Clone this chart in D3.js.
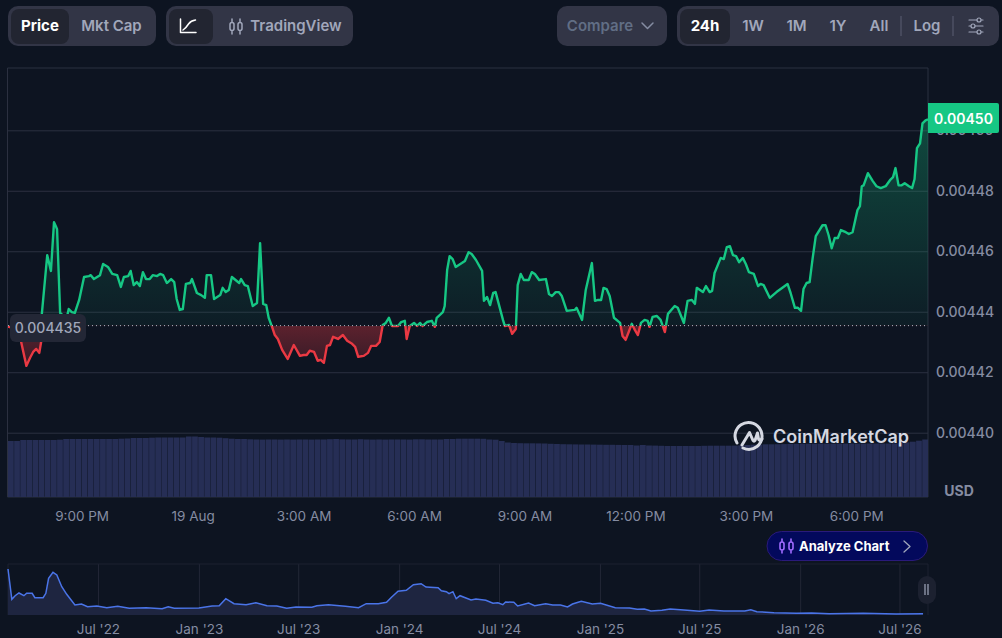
<!DOCTYPE html>
<html>
<head>
<meta charset="utf-8">
<script src="https://cdn.jsdelivr.net/npm/d3@7/dist/d3.min.js"></script>
<style>
html,body{margin:0;padding:0;background:#0d1421;overflow:hidden}
svg{display:block}
text{font-family:Inter,"Noto Sans",sans-serif}
</style>
</head>
<body>
<svg id="c" width="1002" height="638"></svg>
<script>
// minutes since 7:00 PM on 18 Aug
const minutes=[0,3,13,21,30,36,41,46,51,54,55,64,70,75,78,80,85,90,95,99,104,109,116,124,132,135,140,150,155,163,170,178,184,189,196,200,205,210,215,220,225,231,236,243,248,253,259,266,271,275,280,285,290,297,300,308,315,321,324,331,336,346,350,355,360,365,377,380,386,391,399,406,411,416,421,425,430,435,440,447,456,466,476,482,487,492,499,505,510,515,520,525,530,538,546,553,561,566,571,580,587,592,600,606,611,616,621,626,636,641,647,650,655,662,667,672,676,683,691,696,699,709,712,716,720,725,730,740,745,751,756,763,773,776,781,786,791,795,807,810,817,822,828,831,836,841,849,854,859,866,877,882,887,893,898,903,911,924,927,936,942,952,957,962,967,971,976,981,988,998,1002,1007,1012,1017,1022,1027,1032,1038,1043,1046,1051,1058,1064,1071,1076,1087,1092,1102,1108,1115,1120,1123,1133,1138,1144,1148,1152,1162,1167,1172,1177,1182,1187,1192,1198,1203,1208,1216,1223,1227,1232,1242,1253,1271,1276,1283,1288,1293,1297,1302,1307,1312,1317,1328,1333,1338,1343,1348,1353,1358,1366,1371,1377,1385,1389,1392,1395,1402,1410,1416,1423,1431,1438,1443,1447,1452,1457,1462,1469,1474,1478,1482,1487,1491,1496,1500];
// price in millionths of a dollar
const prices=[4435.0,4435.0,4433.0,4430.4,4422.1,4424.8,4426.7,4427.7,4426.4,4430.0,4438.9,4458.7,4453.5,4469.6,4468.3,4467.3,4439.6,4438.6,4437.3,4440.9,4439.9,4439.6,4443.9,4451.5,4451.8,4452.1,4450.8,4452.1,4455.8,4454.8,4452.5,4452.1,4448.2,4451.5,4451.8,4453.5,4448.8,4449.8,4448.5,4453.1,4450.8,4450.8,4452.1,4451.8,4452.5,4452.1,4449.5,4450.8,4449.8,4444.2,4440.6,4440.9,4449.2,4449.5,4450.8,4446.2,4445.5,4444.6,4452.1,4452.1,4444.2,4445.5,4447.9,4446.5,4447.2,4451.5,4449.5,4450.8,4448.8,4448.5,4441.9,4442.9,4462.7,4442.6,4442.2,4438.0,4435.3,4432.3,4431.0,4427.4,4424.4,4429.0,4425.4,4425.7,4425.7,4427.1,4426.7,4423.8,4424.1,4423.1,4428.7,4429.0,4431.7,4431.0,4432.3,4430.4,4429.4,4428.4,4425.1,4425.4,4426.4,4428.7,4428.7,4430.0,4435.6,4436.3,4438.0,4435.3,4435.3,4436.6,4437.0,4431.0,4435.3,4436.3,4435.3,4436.3,4435.3,4436.6,4437.0,4435.0,4438.0,4439.9,4441.9,4453.8,4458.4,4457.4,4454.8,4456.1,4456.8,4459.7,4459.1,4457.1,4453.5,4443.6,4444.9,4442.2,4446.2,4446.5,4437.3,4435.3,4435.6,4432.7,4434.3,4448.8,4452.5,4450.5,4450.5,4453.1,4452.5,4450.5,4450.8,4445.9,4445.2,4446.5,4446.5,4445.2,4440.3,4440.6,4441.3,4437.3,4447.2,4456.1,4443.6,4443.9,4443.9,4447.9,4447.5,4445.2,4438.0,4436.3,4432.0,4430.7,4433.3,4436.0,4434.0,4432.3,4436.3,4437.3,4437.0,4435.0,4438.3,4438.6,4437.3,4433.3,4439.3,4441.9,4441.3,4436.3,4443.6,4443.9,4442.6,4447.9,4446.5,4448.5,4446.5,4446.9,4452.8,4457.8,4457.4,4461.4,4461.7,4458.7,4458.4,4456.4,4457.8,4455.8,4453.1,4452.5,4448.5,4449.2,4448.8,4444.6,4446.5,4449.2,4446.2,4441.3,4441.3,4440.3,4447.5,4449.5,4449.8,4457.8,4465.0,4468.6,4468.6,4465.3,4461.0,4464.4,4464.4,4467.0,4466.3,4465.7,4466.3,4473.6,4474.9,4481.5,4481.8,4485.8,4483.2,4481.5,4480.9,4481.5,4483.5,4484.5,4487.5,4481.8,4481.8,4482.5,4481.5,4480.9,4483.8,4494.1,4495.7,4502.3,4503.3,4503.6];
const basePrice=4435.4;
const basePriceLabel="0.004435";
const lastPriceLabel="0.00450";
const priceTicks=[4400,4420,4440,4460,4480,4500];
const priceTickLabels=["0.00440","0.00442","0.00444","0.00446","0.00448","0.00450"];
const timeTicks=[120,301,482,662,842,1023,1203,1383];
const timeTickLabels=["9:00 PM","19 Aug","3:00 AM","6:00 AM","9:00 AM","12:00 PM","3:00 PM","6:00 PM"];
// relative volume, one value every ten minutes
const volumes=[56,56,57,57,57,57,57,57,57.3,58,
58,58,58,58,58,58,58,58,58.3,58.5,
59,59,59,59.3,59.5,59.5,59.5,59.5,59.5,60.5,
60.5,60,59.5,59.5,59.3,58.8,58.3,58,58,57.7,
57.5,57.4,57.5,57.5,57.4,57.5,57.4,57.5,57.5,57.4,
57.5,57.5,57.8,58,57.6,57.5,57.5,57.8,57.5,57.4,
57.5,57.4,57.5,57.5,57.5,57.4,57.7,57.7,57.5,57.5,
57.5,58,58,58.3,58.3,58.3,58.3,58.2,57.5,57.3,
56,54.5,54,53.8,53.7,53.7,53.6,53.5,53.2,53,
52.8,52.7,52.6,52.5,52.5,52.4,52.3,52.2,52.2,52.1,
52,52,51.5,52,51.5,51.4,51.2,51,51,51,
51,51,51,51.2,51.3,51.3,51.3,51.3,51.4,51.6,
52,52.3,52.5,52.7,52.7,52.8,52.9,53,53.2,53.3,
53.3,53.3,53.4,53.4,53.3,53.4,53.4,53.5,53.4,53.4,
53.5,53.5,53.5,53.5,53.6,53.8,54.7,55.3,56.3,57.5];
// overview series: days since 18 Jan 2022, relative price
const overviewDays=[0,7,13,20,29,34,44,49,64,69,74,82,89,98,107,122,134,145,162,180,200,221,252,281,292,303,348,372,385,397,412,434,452,472,490,508,525,554,563,584,615,639,653,675,690,699,711,726,739,753,762,784,790,799,804,811,817,824,844,853,871,884,893,902,907,922,929,949,960,980,993,1007,1020,1029,1045,1065,1080,1107,1133,1147,1160,1172,1192,1207,1232,1261,1278,1305,1343,1354,1365,1396,1437,1465,1497,1559,1619,1668];
const overviewValues=[46,15.7,19.3,22,19.3,21.7,21.7,17.3,17.3,21.7,36.7,42.7,40,28.3,20.7,10,11,8.3,9,7.3,8.7,6.7,7.3,6.3,8.3,6.7,7,9,9.3,16.3,11.3,10.3,12.3,9.3,9,6.7,8,7.7,9.3,10.3,8.7,7.3,11.3,11.3,12.7,17.7,23.7,24.7,30.3,31.3,28,27.3,24.3,23.3,21.3,23.3,16.3,19.3,15,16,14.7,11.7,12.3,10.3,13,12.7,9,12,9.3,11.3,10,10,8,11,13.7,11,11.7,7.3,7,5.7,6,4,4.7,6,5,3.7,5,4,4,5.3,3.3,2.3,1.7,2,1.3,1.7,1,1.3];
const overviewTicks=["2022-07-01","2023-01-01","2023-07-01","2024-01-01","2024-07-01","2025-01-01","2025-07-01","2026-01-01","2026-07-01"];
const overviewTickLabels=["Jul '22","Jan '23","Jul '23","Jan '24","Jul '24","Jan '25","Jul '25","Jan '26","Jul '26"];
const leftTabs=["Price","Mkt Cap"];
const rangeTabs=["24h","1W","1M","1Y","All"];

const svg=d3.select("#c");
const L=7.5,R=928,T=68,B=497;
const GRID="#2b3040",MUTED="#a1a7bb",AXIS="#858ca2";
const GREEN="#16c784",RED="#ea3943";

const x=d3.scaleLinear().domain([0,1500]).range([8,928]);
const y=d3.scaleLinear().domain([4400,4500]).range([432.7,130.3]);
const vy=d3.scaleLinear().domain([0,60.5]).range([B,436.5]);
const data=minutes.map((m,i)=>({m,p:prices[i]}));

// defs
const defs=svg.append("defs");
const g1=defs.append("linearGradient").attr("id","gUp").attr("gradientUnits","userSpaceOnUse")
 .attr("x1",0).attr("x2",0).attr("y1",y(d3.max(prices))).attr("y2",y(basePrice));
g1.append("stop").attr("offset",0).attr("stop-color",GREEN).attr("stop-opacity",.3);
g1.append("stop").attr("offset",1).attr("stop-color",GREEN).attr("stop-opacity",.05);
const g2=defs.append("linearGradient").attr("id","gDn").attr("gradientUnits","userSpaceOnUse")
 .attr("x1",0).attr("x2",0).attr("y1",y(basePrice)).attr("y2",y(d3.min(prices)));
g2.append("stop").attr("offset",0).attr("stop-color",RED).attr("stop-opacity",.36);
g2.append("stop").attr("offset",1).attr("stop-color",RED).attr("stop-opacity",.18);
defs.append("clipPath").attr("id","up").append("rect").attr("x",0).attr("y",0).attr("width",1002).attr("height",y(basePrice));
defs.append("clipPath").attr("id","dn").append("rect").attr("x",0).attr("y",y(basePrice)).attr("width",1002).attr("height",638-y(basePrice));

// y axis + grid
const yAxis=d3.axisRight(y).tickValues(priceTicks).tickFormat((d,i)=>priceTickLabels[i]).tickSizeInner(-(R-L)).tickSizeOuter(0).tickPadding(8);
const ya=svg.append("g").attr("transform",`translate(${R},0)`).call(yAxis);
ya.select(".domain").remove();
ya.selectAll("line").attr("stroke",GRID);
ya.selectAll("text").attr("fill",AXIS).attr("font-size",14).attr("font-weight",500);

// frame
svg.append("path").attr("d",`M${L} ${B}V${T}H${R}V${B}H${L}`).attr("fill","none").attr("stroke",GRID);

// volume
const vx=d3.scaleBand().domain(d3.range(volumes.length)).range([8,928]).paddingInner(.06);
svg.append("g").selectAll("rect").data(volumes).join("rect")
 .attr("x",(d,i)=>vx(i)).attr("width",vx.bandwidth()).attr("y",d=>vy(d)).attr("height",d=>B-vy(d)).attr("fill","#262e55");

// price area + line
const area=d3.area().x(d=>x(d.m)).y0(y(basePrice)).y1(d=>y(d.p));
const line=d3.line().x(d=>x(d.m)).y(d=>y(d.p));
svg.append("path").datum(data).attr("d",area).attr("fill","url(#gUp)").attr("clip-path","url(#up)");
svg.append("path").datum(data).attr("d",area).attr("fill","url(#gDn)").attr("clip-path","url(#dn)");
svg.append("path").datum(data).attr("d",line).attr("fill","none").attr("stroke",GREEN).attr("stroke-width",2.4).attr("stroke-linejoin","round").attr("clip-path","url(#up)");
svg.append("path").datum(data).attr("d",line).attr("fill","none").attr("stroke",RED).attr("stroke-width",2.4).attr("stroke-linejoin","round").attr("clip-path","url(#dn)");

// baseline
svg.append("line").attr("x1",8).attr("x2",R).attr("y1",y(basePrice)).attr("y2",y(basePrice))
 .attr("stroke","#cfd6e4").attr("stroke-width",1).attr("stroke-dasharray","1 3").attr("opacity",.85);
svg.append("rect").attr("x",10).attr("y",314).attr("width",76).attr("height",28).attr("rx",6).attr("fill","#232736");
svg.append("text").attr("x",48).attr("y",333).attr("text-anchor","middle").attr("fill",MUTED).attr("font-size",14).attr("font-weight",500).text(basePriceLabel);

// current price tag
svg.append("path").attr("d","M928 103H997a2 2 0 0 1 2 2V131a2 2 0 0 1 -2 2H928Z").attr("fill",GREEN);
svg.append("text").attr("x",963.5).attr("y",124).attr("text-anchor","middle").attr("fill","#fff").attr("font-size",14).attr("font-weight",600).text(lastPriceLabel);

// x axis
const xa=svg.append("g").attr("transform",`translate(0,${B})`).call(d3.axisBottom(x).tickValues(timeTicks).tickFormat((d,i)=>timeTickLabels[i]).tickSize(0).tickPadding(14));
xa.select(".domain").remove();
xa.selectAll("text").attr("fill",AXIS).attr("font-size",13.5).attr("font-weight",400);
svg.append("text").attr("x",959).attr("y",496).attr("text-anchor","middle").attr("fill",AXIS).attr("font-size",14).attr("font-weight",700).text("USD");

// watermark
const wm=svg.append("g").attr("fill","none").attr("stroke","#d5d8e2").attr("stroke-width",3).attr("stroke-linecap","round").attr("stroke-linejoin","round");
wm.append("path").attr("d","M737 443A13.5 13.5 0 1 1 757 446.5A13.5 13.5 0 0 1 743 448");
wm.append("path").attr("d","M742 445L749.500 432.500L753 440.500Q754 442 755 440.500L757.500 433L758.500 439Q759 441.500 762 439");
svg.append("text").attr("x",773).attr("y",443).attr("fill","#d5d8e2").attr("font-size",18).attr("font-weight",600).text("CoinMarketCap");

// overview
const mx=d3.scaleUtc().domain([new Date("2022-01-18"),new Date("2026-08-22")]).range([8,928]);
const my=d3.scaleLinear().domain([0,46]).range([615,569]);
const start=new Date("2022-01-18");
const ov=overviewDays.map((d,i)=>({t:d3.utcDay.offset(start,d),v:overviewValues[i]}));
const ma=svg.append("g").attr("transform","translate(0,615)").call(
 d3.axisBottom(mx).tickValues(overviewTicks.map(s=>new Date(s))).tickFormat((d,i)=>overviewTickLabels[i]).tickSizeInner(-51).tickSizeOuter(0).tickPadding(9));
ma.select(".domain").remove();
ma.selectAll("line").attr("stroke","#222736");
ma.selectAll("text").attr("fill",AXIS).attr("font-size",13.5).attr("font-weight",400);
svg.append("path").attr("d","M8 615V564H928V615").attr("fill","none").attr("stroke","#1c2130");
svg.append("path").datum(ov).attr("d",d3.area().x(d=>mx(d.t)).y0(my(0)).y1(d=>my(d.v))).attr("fill","#1e2540");
svg.append("path").datum(ov).attr("d",d3.line().x(d=>mx(d.t)).y(d=>my(d.v))).attr("fill","none").attr("stroke","#4a74e8").attr("stroke-width",1.5);
svg.append("rect").attr("x",918).attr("y",576).attr("width",18).attr("height",28).attr("rx",9).attr("fill","#1c2130");
svg.append("path").attr("d","M925 584V595M928 584V595").attr("stroke",MUTED).attr("stroke-width",1.2);

// toolbar
function box(x0,y0,w,h,r,f){return svg.append("rect").attr("x",x0).attr("y",y0).attr("width",w).attr("height",h).attr("rx",r).attr("fill",f);}
function label(t,cx,col,w,size){return svg.append("text").attr("x",cx).attr("y",31).attr("text-anchor","middle").attr("fill",col).attr("font-size",size||15).attr("font-weight",w||600).text(t);}
function icon(d,col,sw){return svg.append("path").attr("d",d).attr("fill","none").attr("stroke",col).attr("stroke-width",sw||1.5).attr("stroke-linecap","round").attr("stroke-linejoin","round");}
const BTN="#323546",ACT="#222531";
box(8,6,148,40,10,BTN); box(11,9,58,35,8,ACT);
leftTabs.forEach((t,i)=>label(t,[40,111.500][i],i?MUTED:"#fff",i?600:700));
box(166,6,187,40,10,BTN); box(169,9,44,35,8,ACT);
icon("M180.500 19V32.500H196M183 30Q186 28 188.500 24Q191 20.500 195.500 20","#fff");
const candles="M232 19V22.500M232 30.500V34M232 22.500a2 2 0 0 1 2 2V28.500a2 2 0 0 1 -4 0V24.500a2 2 0 0 1 2 -2M240 19V22.500M240 30.500V34M240 22.500a2 2 0 0 1 2 2V28.500a2 2 0 0 1 -4 0V24.500a2 2 0 0 1 2 -2";
icon(candles,MUTED);
label("TradingView",296,MUTED);
box(557,6,110,40,10,BTN);
label("Compare",600,"#616e85");
icon("M642 23L647.500 28.500L653 23","#858ca2");
box(677,6,322,40,10,BTN); box(680,9,50,35,8,ACT);
rangeTabs.forEach((t,i)=>label(t,[705,753,796.500,838,879][i],i?MUTED:"#fff",i?600:700));
svg.append("path").attr("d","M901 16V36M953 16V36").attr("stroke","#5a5f72").attr("stroke-width",1);
label("Log",927,MUTED);
icon("M969 20H983M969 26H983M969 32H983",MUTED,1.2);
svg.append("g").selectAll("circle").data([[979,20],[973,26],[979,32]]).join("circle").attr("cx",d=>d[0]).attr("cy",d=>d[1]).attr("r",2).attr("fill",BTN).attr("stroke",MUTED).attr("stroke-width",1.2);

// analyze pill
svg.append("rect").attr("x",767).attr("y",531.500).attr("width",160.500).attr("height",29).attr("rx",14.500).attr("fill","#03095c").attr("stroke","#2a1a7a");
icon("M782 539V542M782 550V553M782 542a2 2 0 0 1 2 2V548a2 2 0 0 1 -4 0V544a2 2 0 0 1 2 -2M791 539V542M791 550V553M791 542a2 2 0 0 1 2 2V548a2 2 0 0 1 -4 0V544a2 2 0 0 1 2 -2","#a06bff",1.6);
svg.append("text").attr("x",799).attr("y",551).attr("fill","#fff").attr("font-size",13).attr("font-weight",700).text("Analyze Chart");
icon("M904 541L910 546.500L904 552","#a1a7bb",1.3);
</script>
</body>
</html>
